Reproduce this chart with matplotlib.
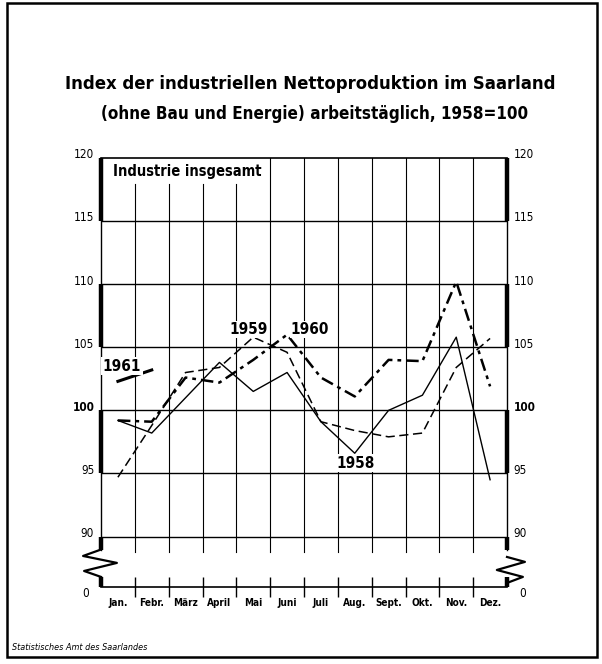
import matplotlib.pyplot as plt
from matplotlib.patches import Rectangle

# Index der industriellen Nettoproduktion, Saarland (1958 = 100)
months = ['Jan.', 'Febr.', 'März', 'April', 'Mai', 'Juni',
          'Juli', 'Aug.', 'Sept.', 'Okt.', 'Nov.', 'Dez.']
idx_1958 = [99.2, 98.2, 101.0, 103.8, 101.5, 103.0, 99.1, 96.6, 100.0, 101.2, 105.8, 94.5]
idx_1959 = [94.7, 98.8, 103.0, 103.4, 105.8, 104.6, 99.1, 98.4, 97.9, 98.2, 103.4, 105.7]
idx_1960 = [99.2, 99.1, 102.6, 102.2, 104.0, 106.0, 102.6, 101.1, 104.0, 103.9, 110.2, 101.9]
idx_1961 = [102.3, 103.2]

grid_levels = [90, 95, 100, 105, 110, 115]
tick_labels = ['0', '90', '95', '100', '105', '110', '115', '120']
ZERO = 86.0      # where the "0" sits below the axis break
TOP = 120.0

FONT = dict(family=['DejaVu Sans'], fontstretch='condensed')


def thick_bands(ax, x):
    # alternating heavy segments along the side axes
    for lo, hi in [(115, 120), (105, 110), (95, 100), (88.9, 90), (ZERO, 86.8)]:
        ax.plot([x, x], [lo, hi], color='black', lw=3.2, solid_capstyle='butt', clip_on=False)
    ax.plot([x, x], [88.9, TOP], color='black', lw=1.0, clip_on=False)


def fit_width(fig, txt, width_px):
    # shrink a text until it is no wider than width_px
    r = fig.canvas.get_renderer()
    for _ in range(4):
        w = txt.get_window_extent(r).width
        if w <= width_px:
            break
        txt.set_fontsize(txt.get_fontsize() * width_px / w)


def main():
    fig = plt.figure(figsize=(6.02, 6.64), dpi=100)
    ax = fig.add_axes([101 / 602, 77 / 664, 406 / 602, 429 / 664])

    n = len(months)
    xs = list(range(1, n + 1))
    ax.set_xlim(0.5, n + 0.5)
    ax.set_ylim(ZERO, TOP)

    for s in ['left', 'right']:
        ax.spines[s].set_visible(False)
    ax.spines['top'].set_linewidth(1.2)
    ax.spines['bottom'].set_linewidth(1.2)

    # horizontal grid
    for lev in grid_levels:
        ax.plot([0.5, n + 0.5], [lev, lev], color='black', lw=1.0, zorder=1)

    # vertical grid at month boundaries (short under the label box)
    for b in range(1, n):
        x = b + 0.5
        top = 117.9 if b <= 4 else TOP
        ax.plot([x, x], [88.8, top], color='black', lw=0.8, zorder=1)

    # side axes with heavy bands and the break zig-zags
    thick_bands(ax, 0.5)
    thick_bands(ax, n + 0.5)
    ax.plot([0.47, -0.03, 0.97, 0.0, 0.5], [88.94, 88.46, 87.91, 87.27, 86.8],
            color='black', lw=1.6, clip_on=False)
    ax.plot([12.5, 13.03, 12.2, 12.97, 12.5], [88.38, 87.99, 87.35, 86.8, 86.32],
            color='black', lw=1.6, clip_on=False)

    # series
    ax.plot(xs, idx_1958, color='black', lw=1.0, zorder=3)
    ax.plot(xs, idx_1959, color='black', lw=1.1, dashes=(6, 3), zorder=3)
    ax.plot(xs, idx_1960, color='black', lw=1.8, dashes=(5, 2, 1.5, 2), zorder=3)
    ax.plot(xs[:len(idx_1961)], idx_1961, color='black', lw=2.2, zorder=3)

    box = dict(fc='white', ec='none', pad=1)
    lab = dict(fontsize=11, fontweight='bold', ha='center', va='center', zorder=4, **FONT)
    ax.text(1.12, 103.5, '1961', bbox=box, **lab)
    ax.text(4.85, 106.4, '1959', bbox=box, **lab)
    ax.text(6.68, 106.4, '1960', bbox=box, **lab)
    ax.text(8.04, 95.8, '1958', bbox=box, **lab)
    t = ax.text(0.85, 118.9, 'Industrie insgesamt', fontsize=10.5, fontweight='bold',
                ha='left', va='center', **FONT)

    # ticks
    ax.set_xticks(xs)
    ax.set_xticklabels(months, fontsize=7.2, fontweight='bold', **FONT)
    ax.set_xticks([b + 0.5 for b in range(1, n)], minor=True)
    ax.tick_params(axis='x', which='major', length=0, pad=8)
    ax.tick_params(axis='x', which='minor', direction='inout', length=14, width=1.0)
    ax.set_yticks([])

    tick_vals = [ZERO] + grid_levels + [TOP]
    for v, lbl in zip(tick_vals, tick_labels):
        w = 'bold' if lbl == '100' else 'normal'
        dy = -0.55 if lbl == '0' else 0.25
        dx = 0.35 if lbl == '0' else 0.2
        ax.text(0.5 - dx, v + dy, lbl, ha='right', va='center', fontsize=8.5,
                fontweight=w, clip_on=False, **FONT)
        ax.text(n + 0.5 + dx, v + dy, lbl, ha='left', va='center', fontsize=8.5,
                fontweight=w, clip_on=False, **FONT)

    # titles
    t1 = fig.text(310 / 602, 1 - 84 / 664, 'Index der industriellen Nettoproduktion im Saarland',
                  ha='center', va='center', fontsize=17, fontweight='bold', **FONT)
    t2 = fig.text(315 / 602, 1 - 114 / 664, '(ohne Bau und Energie) arbeitstäglich, 1958=100',
                  ha='center', va='center', fontsize=14, fontweight='bold', **FONT)
    fit_width(fig, t1, 492)
    fit_width(fig, t2, 432)
    fit_width(fig, t, 160)

    fig.text(12 / 602, 1 - 648 / 664, 'Statistisches Amt des Saarlandes',
             ha='left', va='center', fontsize=6.5, style='italic', **FONT)

    # page border
    fig.patches.append(Rectangle((7 / 602, 7 / 664), 590 / 602, 654 / 664,
                                 transform=fig.transFigure, fill=False,
                                 ec='black', lw=1.8))

    fig.savefig('out.png', dpi=100)


if __name__ == '__main__':
    main()
